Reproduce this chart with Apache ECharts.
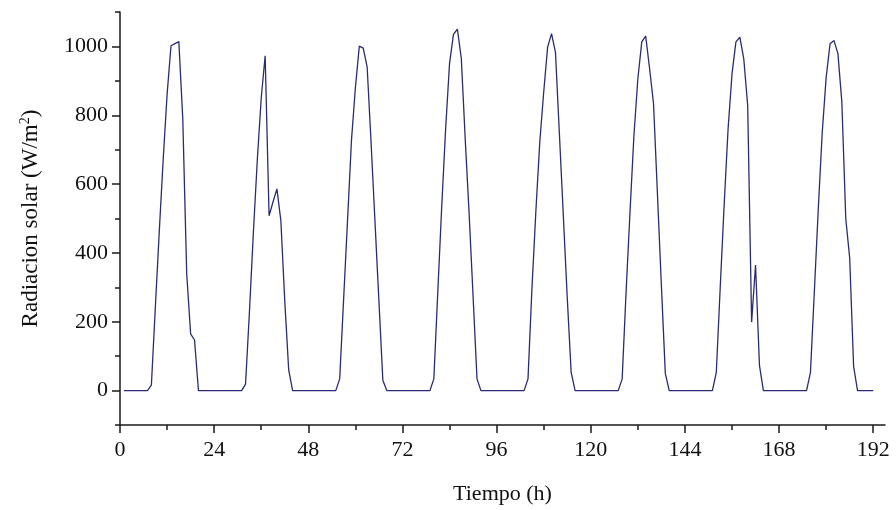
<!DOCTYPE html>
<html>
<head>
<meta charset="utf-8">
<script src="https://cdn.jsdelivr.net/npm/echarts@6/dist/echarts.min.js"></script>
<style>
html,body{margin:0;padding:0;background:#fff;}
#chart{width:896px;height:510px;}
</style>
</head>
<body>
<div id="chart"></div>
<script>
// Hourly solar radiation (W/m²), one array per day (hours 1..24 of each day)
const day1 = [0,0,0,0,0,0,0,16,240,460,670,860,1002,1008,1014,790,340,165,147,0,0,0,0,0];
const day2 = [0,0,0,0,0,0,0,19,230,460,670,850,973,508,548,586,494,260,60,0,0,0,0,0];
const day3 = [0,0,0,0,0,0,0,34,265,495,727,880,1001,995,940,720,490,260,30,0,0,0,0,0];
const day4 = [0,0,0,0,0,0,0,34,285,533,760,950,1035,1050,965,730,512,274,34,0,0,0,0,0];
const day5 = [0,0,0,0,0,0,0,34,296,520,722,867,998,1037,983,746,509,271,53,0,0,0,0,0];
const day6 = [0,0,0,0,0,0,0,34,286,518,741,906,1013,1030,935,833,570,305,50,0,0,0,0,0];
const day7 = [0,0,0,0,0,0,0,53,300,540,760,920,1013,1027,964,828,199,365,73,0,0,0,0,0];
const day8 = [0,0,0,0,0,0,0,53,290,530,750,910,1008,1017,979,838,500,385,70,0,0,0,0,0];

const xMajorTicks = [0,24,48,72,96,120,144,168,192];
const xMinorTicks = [12,36,60,84,108,132,156,180];
const yMajorTicks = [0,200,400,600,800,1000];
const yMinorTicks = [-100,100,300,500,700,900,1100];

const days = [day1,day2,day3,day4,day5,day6,day7,day8];
const seriesData = [];
days.forEach((d, di) => d.forEach((v, i) => seriesData.push([di*24 + i + 1, v])));

const font = 'Liberation Serif, Times New Roman, serif';
const axisColor = '#1a1a1a';
const plain = v => String(v);

const chart = echarts.init(document.getElementById('chart'));
chart.setOption({
  animation: false,
  backgroundColor: '#fff',
  grid: {left: 120, right: 11, top: 12, bottom: 85, containLabel: false},
  xAxis: [{
    type: 'value', min: 0, max: 195, position: 'bottom',
    name: 'Tiempo (h)', nameLocation: 'middle', nameGap: 58,
    nameTextStyle: {fontFamily: font, fontSize: 22, color: '#111'},
    axisLine: {show: true, onZero: false, lineStyle: {color: axisColor, width: 1.5}},
    axisTick: {show: true, inside: false, length: 8, customValues: xMajorTicks, lineStyle: {color: axisColor, width: 1.5}},
    axisLabel: {customValues: xMajorTicks, formatter: plain, fontFamily: font, fontSize: 22, color: '#111', margin: 14},
    splitLine: {show: false}
  }, {
    type: 'value', min: 0, max: 195, position: 'bottom',
    axisLine: {show: false, onZero: false},
    axisTick: {show: true, inside: false, length: 5, customValues: xMinorTicks, lineStyle: {color: axisColor, width: 1.5}},
    axisLabel: {show: false},
    splitLine: {show: false}
  }],
  yAxis: [{
    type: 'value', min: -100, max: 1100, position: 'left',
    name: 'Radiacion solar (W/m{sup|2})', nameLocation: 'middle', nameGap: 76, nameRotate: 90,
    nameTextStyle: {fontFamily: font, fontSize: 23, color: '#111',
      rich: {sup: {fontFamily: font, fontSize: 14, verticalAlign: 'top', color: '#111', padding: [0,0,12,0]}}},
    axisLine: {show: true, onZero: false, lineStyle: {color: axisColor, width: 1.5}},
    axisTick: {show: true, inside: false, length: 8, customValues: yMajorTicks, lineStyle: {color: axisColor, width: 1.5}},
    axisLabel: {customValues: yMajorTicks, formatter: plain, fontFamily: font, fontSize: 22, color: '#111', margin: 12},
    splitLine: {show: false}
  }, {
    type: 'value', min: -100, max: 1100, position: 'left',
    axisLine: {show: false, onZero: false},
    axisTick: {show: true, inside: false, length: 5, customValues: yMinorTicks, lineStyle: {color: axisColor, width: 1.5}},
    axisLabel: {show: false},
    splitLine: {show: false}
  }],
  series: [{
    type: 'line',
    xAxisIndex: 0, yAxisIndex: 0,
    data: seriesData,
    showSymbol: false,
    symbol: 'none',
    lineStyle: {color: '#2b2b72', width: 1.3},
    silent: true
  }]
});
</script>
</body>
</html>
